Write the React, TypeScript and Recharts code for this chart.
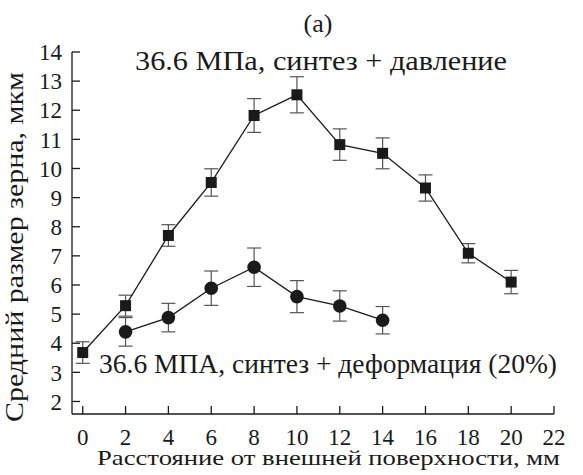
import React from 'react';
import { ScatterChart, Scatter, XAxis, YAxis, ErrorBar } from 'recharts';

// distance from outer surface, mm
const pressureX = [0, 2, 4, 6, 8, 10, 12, 14, 16, 18, 20];
const pressureY = [3.68, 5.29, 7.7, 9.52, 11.82, 12.53, 10.82, 10.52, 9.33, 7.09, 6.1];
const pressureErr = [0.37, 0.36, 0.37, 0.47, 0.58, 0.62, 0.54, 0.53, 0.45, 0.33, 0.4];

const deformX = [2, 4, 6, 8, 10, 12, 14];
const deformY = [4.39, 4.88, 5.89, 6.61, 5.6, 5.28, 4.79];
const deformErr = [0.49, 0.49, 0.59, 0.66, 0.55, 0.52, 0.47];

const xTicks = [0, 2, 4, 6, 8, 10, 12, 14, 16, 18, 20, 22];
const yTicks = [2, 3, 4, 5, 6, 7, 8, 9, 10, 11, 12, 13, 14];

const pressureData = pressureX.map((x, i) => ({ x, y: pressureY[i], err: pressureErr[i] }));
const deformData = deformX.map((x, i) => ({ x, y: deformY[i], err: deformErr[i] }));

const FONT = 'Liberation Serif';
const INK = '#1a1a1a';

const SquareDot = (props: any) => {
  const { cx, cy } = props;
  return <rect x={cx - 5.5} y={cy - 5.5} width={11} height={11} fill={INK} />;
};

const CircleDot = (props: any) => {
  const { cx, cy } = props;
  return <circle cx={cx} cy={cy} r={6.8} fill={INK} />;
};

const tickStyle = { fill: INK, fontSize: 23, fontFamily: FONT };

export default function App() {
  return (
    <div style={{ position: 'absolute', left: 0, top: 0, width: 583, height: 475, background: '#fff' }}>
      <ScatterChart width={583} height={475} margin={{ top: 52, right: 29, left: 0, bottom: 0 }}>
        <XAxis
          type="number"
          dataKey="x"
          domain={[-0.5, 22]}
          ticks={xTicks}
          allowDataOverflow
          height={61}
          tickSize={-8}
          tickMargin={23}
          tick={tickStyle}
          stroke={INK}
          strokeWidth={1.3}
          interval={0}
        />
        <YAxis
          type="number"
          dataKey="y"
          domain={[1.57, 14]}
          ticks={yTicks}
          allowDataOverflow
          width={72}
          tickSize={-8}
          tickMargin={18}
          tick={tickStyle}
          stroke={INK}
          strokeWidth={1.3}
          interval={0}
        />
        <Scatter
          data={pressureData}
          line={{ stroke: INK, strokeWidth: 1.3 }}
          lineType="joint"
          shape={SquareDot}
          isAnimationActive={false}
        >
          <ErrorBar dataKey="err" direction="y" width={7} stroke="#555" strokeWidth={1.2} />
        </Scatter>
        <Scatter
          data={deformData}
          line={{ stroke: INK, strokeWidth: 1.3 }}
          lineType="joint"
          shape={CircleDot}
          isAnimationActive={false}
        >
          <ErrorBar dataKey="err" direction="y" width={7} stroke="#555" strokeWidth={1.2} />
        </Scatter>
        <text x={318} y={32} textAnchor="middle" fontFamily={FONT} fontSize={26} fill={INK}>(a)</text>
        <text x={135} y={70} fontFamily={FONT} fontSize={28} fill={INK} textLength={372} lengthAdjust="spacingAndGlyphs">
          36.6 МПа, синтез + давление
        </text>
        <text x={99} y={373} fontFamily={FONT} fontSize={28} fill={INK} textLength={458} lengthAdjust="spacingAndGlyphs">
          36.6 МПА, синтез + деформация (20%)
        </text>
        <text x={97} y={465} fontFamily={FONT} fontSize={22} fill={INK} textLength={463} lengthAdjust="spacingAndGlyphs">
          Расстояние от внешней поверхности, мм
        </text>
        <text
          x={23}
          y={247}
          textAnchor="middle"
          fontFamily={FONT}
          fontSize={25}
          fill={INK}
          textLength={350}
          lengthAdjust="spacingAndGlyphs"
          transform="rotate(-90 23 247)"
        >
          Средний размер зерна, мкм
        </text>
      </ScatterChart>
    </div>
  );
}
